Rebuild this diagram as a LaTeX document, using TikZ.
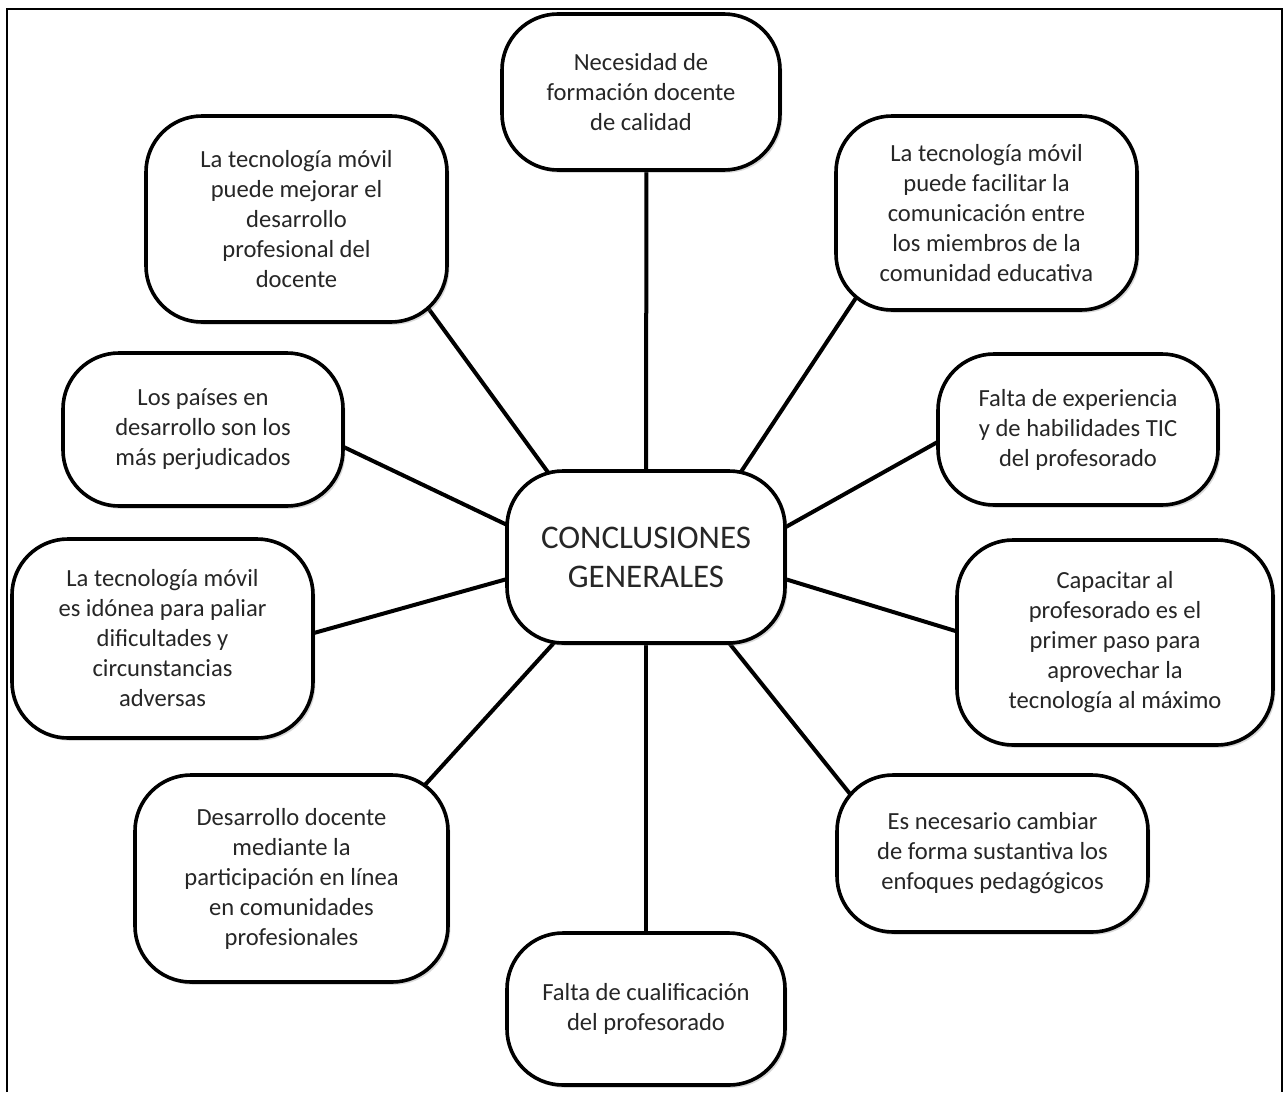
\documentclass[tikz,border=0pt]{standalone}
\usepackage{fontspec}
\setmainfont{Carlito}
\usetikzlibrary{backgrounds,shadows}

\begin{document}
\begin{tikzpicture}[x=0.5pt,y=-0.5pt,inner sep=0pt,outer sep=0pt,
idea/.style={draw,rectangle,rounded corners=28pt,fill=white,line width=1.8pt,align=center,text=black!85,
  font=\fontsize{12.3}{15}\selectfont,drop shadow={shadow xshift=1.2pt,shadow yshift=-1.4pt,opacity=0.3}},
hub/.style={idea,font=\fontsize{16.5}{19.5}\selectfont},
link/.style={line width=2pt,shorten <=-14pt,shorten >=-14pt}]

\useasboundingbox (0,0) rectangle (1283,1092);
\draw[line width=1pt] (7,1092) -- (7,9) -- (1282,9) -- (1282,1092);

\draw (646,557) node[hub,minimum width=139pt,minimum height=86pt] (concl) {CONCLUSIONES\\GENERALES};

\draw (641,92) node[idea,minimum width=139pt,minimum height=78pt] (necesidad) {Necesidad de\\formación docente\\de calidad};
\draw (296.5,219) node[idea,minimum width=150.5pt,minimum height=103pt] (mejorar) {La tecnología móvil\\puede mejorar el\\desarrollo\\profesional del\\docente};
\draw (986.5,213) node[idea,minimum width=150.5pt,minimum height=97pt] (facilitar) {La tecnología móvil\\puede facilitar la\\comunicación entre\\los miembros de la\\comunidad educativa};
\draw (203,429.5) node[idea,minimum width=140pt,minimum height=76.5pt] (paises) {Los países en\\desarrollo son los\\más perjudicados};
\draw (1078,429.5) node[idea,minimum width=140pt,minimum height=75.5pt] (experiencia) {Falta de experiencia\\y de habilidades TIC\\del profesorado};
\draw (162.5,638.5) node[idea,minimum width=150.5pt,minimum height=99.5pt] (idonea) {La tecnología móvil\\es idónea para paliar\\dificultades y\\circunstancias\\adversas};
\draw (1115,642.5) node[idea,minimum width=158pt,minimum height=102.5pt] (capacitar) {Capacitar al\\profesorado es el\\primer paso para\\aprovechar la\\tecnología al máximo};
\draw (291.5,878.5) node[idea,minimum width=156.5pt,minimum height=103.5pt] (desarrollo) {Desarrollo docente\\mediante la\\participación en línea\\en comunidades\\profesionales};
\draw (992.5,853.5) node[idea,minimum width=155.5pt,minimum height=78.5pt] (enfoques) {Es necesario cambiar\\de forma sustantiva los\\enfoques pedagógicos};
\draw (646,1009) node[idea,minimum width=139pt,minimum height=76pt] (cualif) {Falta de cualificación\\del profesorado};

\begin{scope}[on background layer]
\draw[link] (concl.90) -- (necesidad.-86);
\draw[link] (concl.139) -- (mejorar.-36);
\draw[link] (concl.42) -- (facilitar.-145);
\draw[link] (concl.167) -- (paises.-7);
\draw[link] (concl.12) -- (experiencia.185);
\draw[link] (concl.189) -- (idonea.2);
\draw[link] (concl.-9) -- (capacitar.176);
\draw[link] (concl.-137) -- (desarrollo.36);
\draw[link] (concl.-46) -- (enfoques.154);
\draw[link] (concl.-90) -- (cualif.90);
\end{scope}
\end{tikzpicture}
\end{document}
